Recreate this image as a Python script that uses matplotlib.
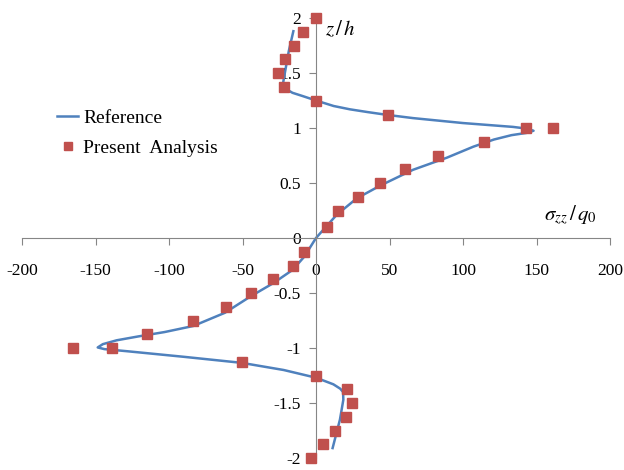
import matplotlib
matplotlib.use("Agg")
import matplotlib.pyplot as plt

# reference curve (sigma_zz/q0, z/h)
ref_s = [-15.4, -18.5, -22.0, -22.6, -20.5, -16.0, -9.0, 0.0, 12.0, 23.0, 35.0, 48.0, 66.0,
         100.0, 134.0, 143.0, 148.0, 143.0, 133.0, 121.0, 107.0, 89.0, 66.0, 43.5, 27.7, 14.0,
         5.0, 0.0, -8.0, -15.9, -29.0, -44.4, -62.0, -83.5, -103.0, -121.0, -135.6,
         -145.0, -148.5, -144.0, -128.0, -90.0, -50.5, -22.0, 0.0, 11.8, 16.5, 18.4, 18.6, 16.3, 14.0, 11.3]
ref_z = [1.88, 1.70, 1.44, 1.39, 1.355, 1.32, 1.29, 1.25, 1.20, 1.17, 1.145, 1.12, 1.09,
         1.045, 1.01, 0.995, 0.975, 0.955, 0.935, 0.895, 0.83, 0.73, 0.62, 0.475, 0.36, 0.21,
         0.075, 0.0, -0.17, -0.29, -0.41, -0.53, -0.68, -0.80, -0.855, -0.895, -0.93,
         -0.965, -0.995, -1.01, -1.03, -1.08, -1.135, -1.2, -1.27, -1.33, -1.37, -1.40, -1.47, -1.65, -1.77, -1.91]

# present analysis points
pa_s = [0.0, -8.8, -15.0, -21.0, -26.0, -22.0, 0.0, 49.0, 143.0, 161.0, 114.0,
        82.8, 60.8, 43.5, 28.3, 15.2, 7.3,
        -8.0, -15.9, -29.0, -44.4, -61.4, -83.5, -115.0, -138.8, -165.0, -50.5,
        0.0, 20.9, 24.7, 20.2, 12.9, 4.6, -3.4]
pa_z = [2.0, 1.875, 1.75, 1.625, 1.5, 1.375, 1.25, 1.12, 1.0, 1.0, 0.875,
        0.75, 0.625, 0.5, 0.375, 0.25, 0.1,
        -0.125, -0.25, -0.375, -0.5, -0.625, -0.75, -0.875, -1.0, -1.0, -1.125,
        -1.25, -1.375, -1.5, -1.625, -1.75, -1.875, -2.0]

x_ticks = [-200, -150, -100, -50, 0, 50, 100, 150, 200]
y_ticks = [-2, -1.5, -1, -0.5, 0, 0.5, 1, 1.5, 2]
y_labels = ["-2", "-1.5", "-1", "-0.5", "0", "0.5", "1", "1.5", "2"]

plt.rcParams["font.family"] = ["Liberation Serif", "DejaVu Serif"]
plt.rcParams["mathtext.fontset"] = "stix"

fig = plt.figure(figsize=(6.24, 4.70), dpi=100)
ax = fig.add_axes([22 / 624, 12 / 470, 588 / 624, 440 / 470])

ax.plot(ref_s, ref_z, color="#4F81BD", lw=1.8, label="Reference", zorder=2)
ax.plot(pa_s, pa_z, ls="none", marker="s", ms=7, color="#C0504D",
        label="Present  Analysis", clip_on=False, zorder=3)

ax.set_xlim(-200, 200)
ax.set_ylim(-2, 2)

# axes crossing at the origin
for side in ["left", "bottom"]:
    ax.spines[side].set_position(("data", 0))
    ax.spines[side].set_color("#868686")
ax.spines["top"].set_visible(False)
ax.spines["right"].set_visible(False)

ax.set_xticks(x_ticks)
ax.set_xticklabels([str(v) for v in x_ticks])
ax.set_yticks(y_ticks)
ax.set_yticklabels(y_labels)
ax.tick_params(axis="x", direction="out", length=5, color="#868686", pad=13, labelsize=12.5)
ax.tick_params(axis="y", direction="out", length=5, color="#868686", pad=6, labelsize=12.5)

# axis titles, positioned in pixels from the top-left
fig.text(325 / 624, 1 - 30 / 470, "$z\\,/\\,h$", fontsize=15, va="center", ha="left")
fig.text(544 / 624, 1 - 215 / 470, r"$\sigma_{zz}\,/\,q_0$", fontsize=15,
         va="center", ha="left")

ax.legend(loc="upper left", bbox_to_anchor=(57 / 624, 1 - 109 / 470),
          bbox_transform=fig.transFigure, frameon=False, fontsize=14,
          handlelength=1.1, handletextpad=0.25, labelspacing=0.65, numpoints=1,
          borderaxespad=0, borderpad=0, markerscale=0.85)

fig.savefig("out.png", dpi=100)
